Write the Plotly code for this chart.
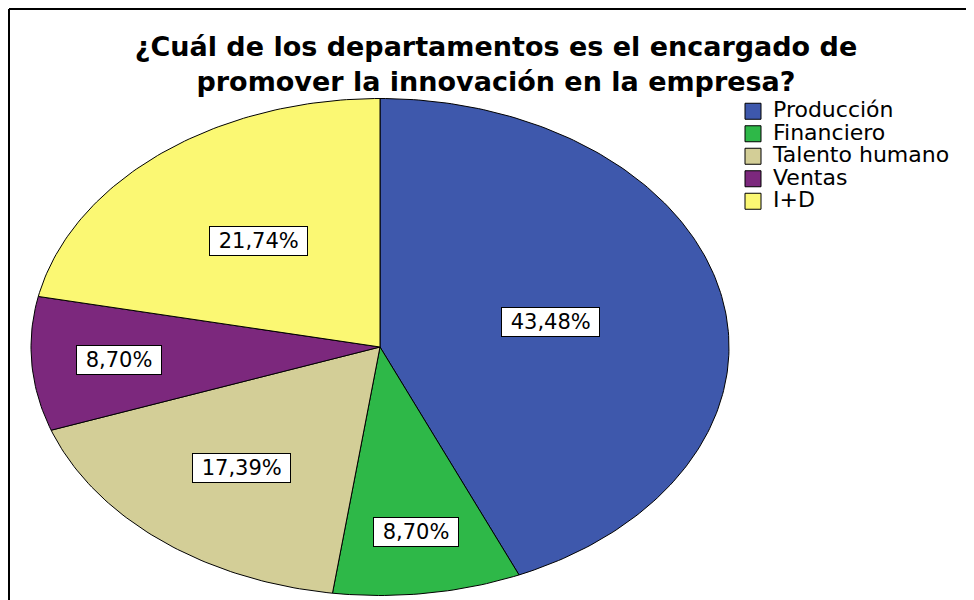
import numpy as np
import plotly.graph_objects as go

# survey answers (counts per department)
departments = ["Producción", "Financiero", "Talento humano", "Ventas", "I+D"]
counts = [10, 2, 4, 2, 5]
colors = ["#3E58AC", "#2EB848", "#D3CE97", "#7C287D", "#FBF873"]

title_text = ("¿Cuál de los departamentos es el encargado de<br>"
              "promover la innovación en la empresa?")

# where the percent boxes sit inside each slice (fraction of the radius)
label_r = [0.50, 0.75, 0.63, 0.75, 0.55]

# the page body has an 8px margin, so the figure is a bit smaller than the window
W, H = 966, 592
# pie centre and radii in figure pixels (the chart is stretched horizontally)
cx, cy, rx, ry = 372, 339, 349, 248.5

total = sum(counts)
fracs = [c / total for c in counts]

fig = go.Figure()

start = 0.0
for name, frac, col, lr in zip(departments, fracs, colors, label_r):
    end = start + frac * 2 * np.pi
    t = np.linspace(start, end, max(3, int(400 * frac)))
    xs = np.concatenate([[0], np.sin(t), [0]])
    ys = np.concatenate([[0], np.cos(t), [0]])
    pct = f"{frac * 100:.2f}%".replace(".", ",")
    fig.add_trace(go.Scatter(
        x=xs, y=ys,
        mode="lines",
        fill="toself",
        fillcolor=col,
        line=dict(color="black", width=1),
        name=name,
        showlegend=False,
        hoveron="fills",
        hoverinfo="text",
        text=f"{name}: {pct}",
    ))
    mid = (start + end) / 2
    fig.add_annotation(
        x=lr * np.sin(mid), y=lr * np.cos(mid),
        xref="x", yref="y",
        text="\u00a0" + pct + "\u00a0",
        showarrow=False,
        font=dict(family="DejaVu Sans", size=21, color="black"),
        bgcolor="white",
        bordercolor="black",
        borderwidth=1,
        borderpad=2,
        height=24,
    )
    start = end

# legend entries (square swatches)
for name, col in zip(departments, colors):
    fig.add_trace(go.Scatter(
        x=[None], y=[None],
        mode="markers",
        marker=dict(symbol="square", size=16, color=col,
                    line=dict(color="black", width=1)),
        name=f'<span style="font-size:22px">{name}</span>',
        hoverinfo="skip",
    ))

# frame lines (top and left edges visible)
fig.add_shape(type="line", xref="paper", yref="paper",
              x0=1 / W, x1=1, y0=1 - 1 / H, y1=1 - 1 / H,
              line=dict(color="black", width=2))
fig.add_shape(type="line", xref="paper", yref="paper",
              x0=1 / W, x1=1 / W, y0=0, y1=1 - 1 / H,
              line=dict(color="black", width=2))

fig.update_layout(
    width=W, height=H,
    margin=dict(l=0, r=0, t=0, b=0),
    paper_bgcolor="white",
    plot_bgcolor="white",
    title=dict(
        text=title_text,
        x=488 / W, xanchor="center", xref="container",
        y=1 - 48 / H, yanchor="middle", yref="container",
        font=dict(family="DejaVu Sans", size=27, color="black", weight="bold"),
    ),
    xaxis=dict(range=[-cx / rx, (W - cx) / rx], visible=False, fixedrange=True),
    yaxis=dict(range=[(cy - H) / ry, cy / ry], visible=False, fixedrange=True),
    legend=dict(
        x=725 / W, y=1 - 87 / H,
        xanchor="left", yanchor="top",
        font=dict(family="DejaVu Sans", size=15, color="black"),
        bgcolor="rgba(0,0,0,0)",
        itemsizing="trace",
    ),
    showlegend=True,
)

fig.write_html("out.html")
